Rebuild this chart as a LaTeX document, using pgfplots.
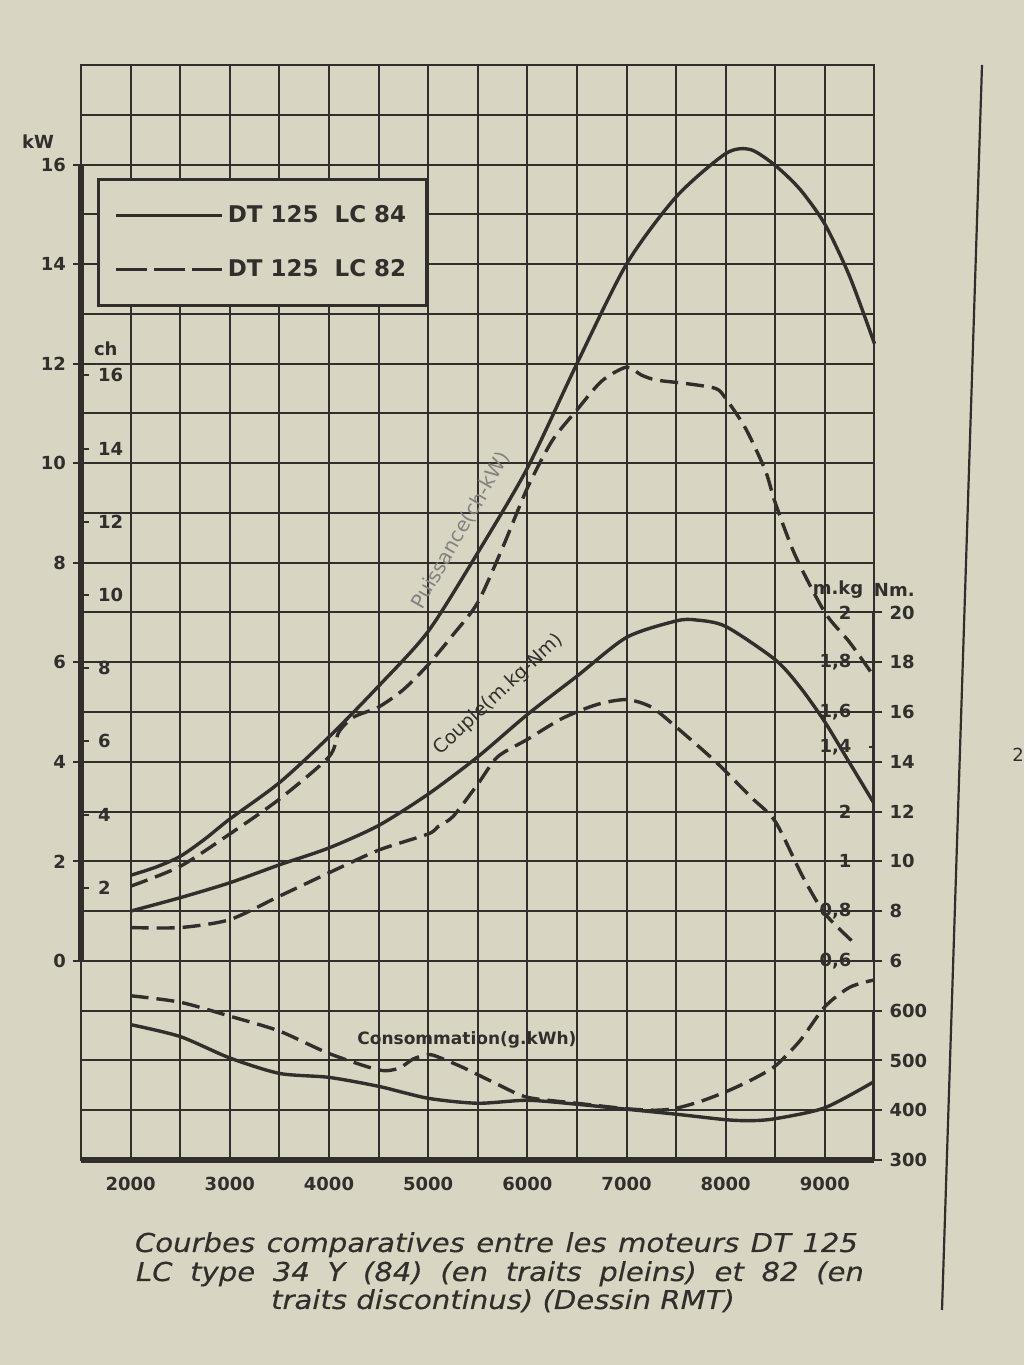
\documentclass[border=0pt]{standalone}
\usepackage{fontspec}
\setmainfont{DejaVu Sans}
\newfontfamily\capfont[FakeStretch=1.12, FakeBold=0.3]{DejaVu Sans}
\usepackage{pgfplots}
\pgfplotsset{compat=1.18}
\definecolor{paper}{RGB}{216,214,194}
\definecolor{ink}{RGB}{50,46,44}
\newcommand{\tl}{\fontsize{9}{10}\selectfont\bfseries}
\pgfplotsset{
  base/.style={scale only axis, width=396.75pt, height=547.5pt,
    at={(40.5pt,102.5pt)}, anchor=south west, xmin=1500, xmax=9500,
    /pgf/number format/assume math mode=true,
    tick label style={font=\tl, text=ink}},
  p84/.style={ink, line width=1.7pt, smooth, tension=0.45, mark=none},
  p82/.style={ink, line width=1.7pt, smooth, tension=0.45, mark=none, dash pattern=on 9pt off 4pt},
}
\begin{document}
\begin{tikzpicture}
\fill[paper] (0,0) rectangle (512pt,682.5pt);
\useasboundingbox (0,0) rectangle (512pt,682.5pt);

% ---------- main axis: grid, kW scale, power ----------
\begin{axis}[base, ymin=-4, ymax=18, clip=false,
  xtick={2000,3000,...,9000}, xticklabels={2000,3000,4000,5000,6000,7000,8000,9000},
  minor xtick={1500,2500,...,9500},
  ytick={0,2,...,16}, minor ytick={-4,-3,...,18},
  grid=both, major grid style={ink, line width=1pt}, minor grid style={ink, line width=1pt},
  axis line style={ink, line width=1pt},
  xtick pos=bottom, ytick pos=left, scaled x ticks=false,
  xtick style={/pgfplots/major tick length=0pt},
  minor tick length=0pt, major tick length=4pt, tick align=outside,
  ytick style={ink, line width=1pt},
  xticklabel style={yshift=-1pt},
  legend style={at={(axis cs:1660,15.73)}, anchor=north west, draw=ink, line width=1.6pt,
    fill=paper, inner xsep=8pt, inner ysep=11pt, row sep=13pt,
    font=\fontsize{11.5}{12}\selectfont\bfseries, text=ink, cells={anchor=west}},
  legend image code/.code={\draw[#1] (0pt,0pt) -- (53pt,0pt);},
]
\addplot[p84] coordinates {(2000,1.72)(2250,1.88)(2500,2.1)(2750,2.45)(3000,2.85)(3500,3.58)(4000,4.5)(4500,5.52)(5000,6.62)(5500,8.2)(6000,9.9)(6500,12.0)(7000,14.0)(7500,15.35)(8000,16.22)(8250,16.3)(8500,15.98)(8750,15.5)(9000,14.8)(9250,13.75)(9500,12.4)};
\addlegendentry{DT 125\ \ LC 84}
\addplot[p82, legend image code/.code={\draw[ink, line width=1.7pt, dash pattern=on 15.5pt off 3.5pt] (0pt,0pt) -- (53pt,0pt);}] coordinates {(2000,1.5)(2500,1.9)(3000,2.55)(3500,3.25)(4000,4.1)(4100,4.6)(4250,4.9)(4500,5.1)(4750,5.45)(5000,5.95)(5250,6.55)(5500,7.2)(5750,8.3)(6000,9.5)(6250,10.45)(6500,11.07)(6750,11.65)(7000,11.93)(7150,11.77)(7300,11.67)(7600,11.6)(7900,11.5)(8000,11.3)(8200,10.7)(8400,9.85)(8500,9.2)(8700,8.15)(9000,7.0)(9250,6.4)(9500,5.7)};
\addlegendentry{DT 125\ \ LC 82}
\draw[ink, line width=2.6pt] (axis cs:1500,0) -- (axis cs:1500,16);
\draw[ink, line width=2.6pt] (axis cs:1500,-4) -- (axis cs:9500,-4);
\node[font=\tl, text=ink] at (axis cs:1066,16.45) {kW};
\node[font=\tl, text=ink, anchor=west] at (axis cs:1560,12.3) {ch};
\node[font=\tl, text=ink] at (axis cs:9132,7.45) {m.kg};
\node[font=\tl, text=ink] at (axis cs:9700,7.45) {Nm.};
\node[font=\fontsize{10}{11}\selectfont, text=ink!60, rotate=60] at (axis cs:5330,8.65) {Puissance(ch-kW)};
\node[font=\fontsize{9.5}{10}\selectfont, text=ink, rotate=43] at (axis cs:5710,5.35) {Couple(m.kg-Nm)};
\node[font=\fontsize{8.5}{9}\selectfont\bfseries, text=ink] at (axis cs:5391,-1.59) {Consommation(g.kWh)};
\node[font=\fontsize{9}{10}\selectfont, text=ink] at (axis cs:10947,4.14) {2};
\end{axis}

% ---------- ch scale (inside, left) ----------
\begin{axis}[base, ymin=-5.44, ymax=24.48, hide x axis, axis y line*=left,
  axis line style={draw=none}, ytick={2,4,...,16}, tick align=inside,
  major tick length=4pt, ytick style={ink, line width=1pt},
  yticklabel style={anchor=west, xshift=5pt}]
\end{axis}

% ---------- torque: Nm scale (right) ----------
\begin{axis}[base, ymin=-2, ymax=42, hide x axis, axis y line*=right,
  axis line style={draw=none}, ytick={6,8,...,20}, tick align=outside,
  major tick length=4pt, ytick style={ink, line width=1pt}]
\addplot[p84] coordinates {(2000,8.0)(2500,8.54)(3000,9.14)(3500,9.86)(4000,10.54)(4500,11.44)(5000,12.7)(5500,14.2)(6000,15.9)(6500,17.44)(7000,19.0)(7500,19.66)(7700,19.7)(8000,19.44)(8500,18.1)(8750,17.0)(9000,15.6)(9250,13.95)(9500,12.3)};
\addplot[p82] coordinates {(2000,7.34)(2500,7.34)(3000,7.66)(3500,8.6)(4000,9.54)(4500,10.45)(5000,11.1)(5100,11.4)(5250,11.8)(5500,13.1)(5700,14.2)(6000,14.9)(6350,15.74)(6700,16.3)(7000,16.5)(7250,16.2)(7500,15.4)(7900,14.0)(8250,12.6)(8500,11.6)(8775,9.4)(9000,7.9)(9300,6.7)};
\draw[ink, line width=2.6pt] (axis cs:9500,6) -- (axis cs:9500,20);
\end{axis}

% ---------- torque: m.kg scale (inside, right) ----------
\begin{axis}[base, ymin=-2, ymax=42, hide x axis, axis y line*=right,
  axis line style={draw=none}, ytick={6,8,10,12,14.6,16,18,20},
  yticklabels={{0,6},{0,8},1,2,{1,4},{1,6},{1,8},2},
  tick align=inside, major tick length=3pt, ytick style={ink, line width=1pt},
  yticklabel style={anchor=east, xshift=-8pt}]
\end{axis}

% ---------- consumption (right, lower panel) ----------
\begin{axis}[base, ymin=300, ymax=2500, hide x axis, axis y line*=right,
  axis line style={draw=none}, ytick={300,400,500,600}, tick align=outside,
  major tick length=4pt, ytick style={ink, line width=1pt}]
\addplot[p84] coordinates {(2000,572)(2500,548)(3000,505)(3500,474)(4000,466)(4500,448)(5000,424)(5500,414)(6000,420)(6500,412)(7000,402)(7500,392)(8000,381)(8250,379)(8500,383)(9000,405)(9500,458)};
\addplot[p82] coordinates {(2000,630)(2500,617)(3000,589)(3500,559)(4000,514)(4500,481)(4700,484)(4850,503)(5000,512)(5100,507)(5350,486)(5700,452)(6000,426)(6500,414)(7000,403)(7300,400)(7500,404)(7750,418)(8000,437)(8250,460)(8500,489)(8750,540)(9000,608)(9250,647)(9500,662)};
\draw[ink, line width=2.6pt] (axis cs:9500,300) -- (axis cs:9500,600);
\end{axis}

% ---------- page rule and caption ----------
\draw[ink, line width=1.1pt] (491pt,650pt) -- (471pt,27.5pt);
\begin{scope}[every node/.style={text=ink, font=\capfont\fontsize{13}{15}\selectfont\itshape, inner sep=0pt}]
\node[anchor=base] at (248.25pt,56.5pt) {\makebox[361.5pt][s]{Courbes comparatives entre les moteurs DT 125}};
\node[anchor=base] at (250pt,42pt) {\makebox[364pt][s]{LC type 34 Y (84) (en traits pleins) et 82 (en}};
\node[anchor=base] at (251.5pt,28pt) {traits discontinus) (Dessin RMT)};
\end{scope}
\end{tikzpicture}
\end{document}
